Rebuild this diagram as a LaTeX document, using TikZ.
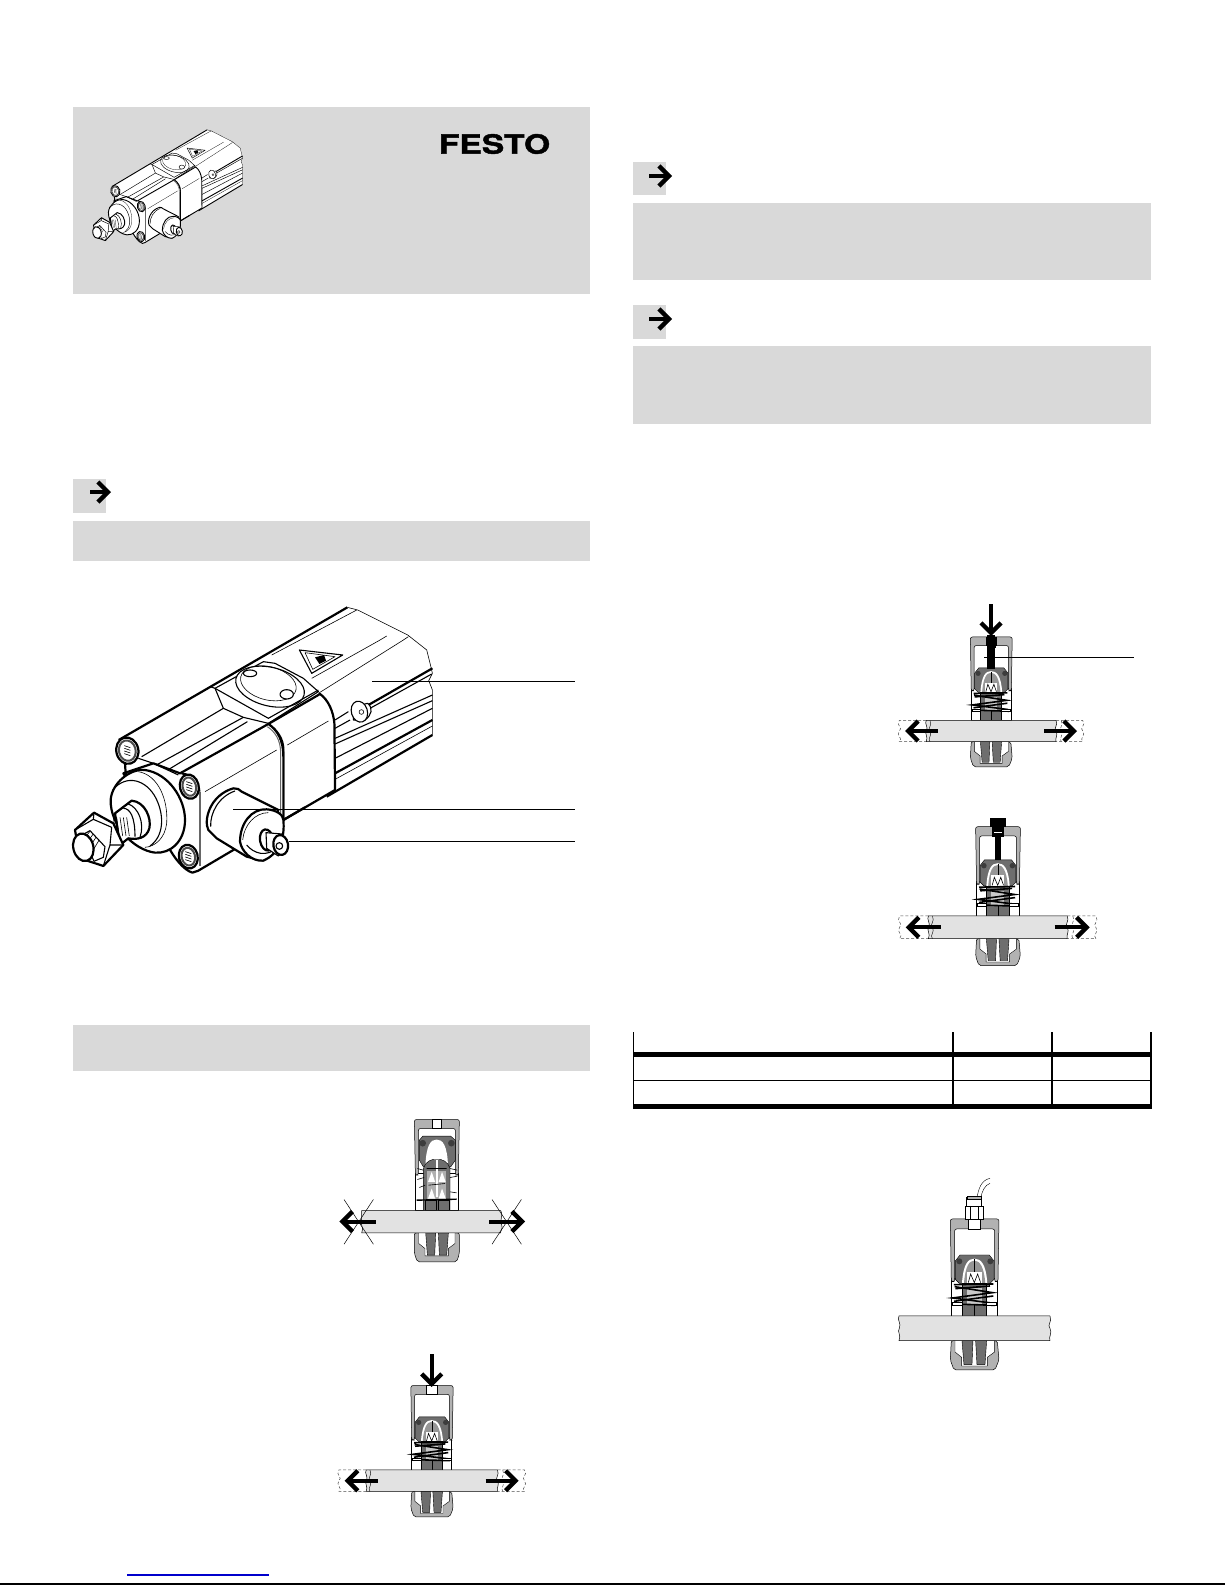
\documentclass[tikz,border=0pt]{standalone}
\usepackage{fontspec}
\newfontfamily\logofont[FakeStretch=1.27,FakeBold=1.6]{TeX Gyre Heros}
\usetikzlibrary{positioning,arrows.meta}

\definecolor{panelgray}{HTML}{D9D9D9}
\definecolor{hullgray}{HTML}{B2B2B2}
\definecolor{darkgray}{HTML}{6E6E6E}
\definecolor{midgray}{HTML}{969696}
\definecolor{ringgray}{HTML}{3C3C3C}
\definecolor{bargray}{HTML}{E2E2E2}
\definecolor{linkblue}{HTML}{0000CC}

\tikzset{
	panel/.style={fill=panelgray,draw=none},
	hullpart/.style={fill=hullgray,draw=black,line width=.5pt},
	darkpart/.style={fill=darkgray,draw=black,line width=.4pt},
	whitepart/.style={fill=white,draw=black,line width=.5pt},
	barpart/.style={fill=bargray,draw=black,line width=.5pt},
	spring/.style={black,line width=1.6pt},
	barend/.style={black!70,line width=.5pt,densely dashed},
	bigarrow/.style={line width=4pt,-{Straight Barb[length=10pt,width=20pt,line width=4.4pt]}},
	leader/.style={black,line width=1pt},
	cylthick/.style={black,line width=\cylw*2.2pt,line join=round},
	cylmid/.style={black,line width=\cylw*1.1pt,line join=round},
	cylthin/.style={black,line width=\cylw*.6pt,line join=round},
}

% the pneumatic cylinder, #1 #2 origin, #3 #4 size of a unit, #5 line factor
\newcommand{\cylinderdrawing}[5]{
	\def\cylw{#5}
	\begin{scope}[shift={(#1,#2)},x=#3pt,y=-#4pt]
		%the rear half
		\begin{scope}[shift={(406.6,150)},xscale=.968]
			\fill[white] (442,-98) -- (473,-90) -- (623,-15) -- (680,30) -- (690,70) -- (697,100) -- (686,122) -- (697,150) -- (697,285) -- (380,470) -- (250,540) -- (-225,370) -- (-244,300) -- cycle;
			\draw[cylthin] (442,-98) -- (473,-90) -- (623,-15) -- (680,30) -- (690,70) -- (697,100) -- (686,122) -- (697,150) -- (697,285);
			\draw[cylthin] (335,115) -- (540,0) -- (560,-12) (355,160) -- (610,0) -- (625,-10) (215,45) -- (470,-90);
			\draw[cylthick] (505,195) -- (697,85);
			\draw[cylmid] (405,240) -- (445,215) (405,265) -- (450,240) (510,205) -- (695,102);
			\draw[cylmid] (405,295) -- (697,165) (405,312) -- (697,182) (405,355) -- (697,205);
			\draw[cylthick] (405,400) -- (697,240);
			\draw[cylthin] (405,418) -- (697,258);
			\draw[cylthick] (380,470) -- (697,285);
			\draw[cylmid,fill=white] (503,190) .. controls (520,205) and (515,225) .. (495,240) -- (460,240) -- (460,200) -- cycle;
			\draw[cylmid,fill=white] (478,215) ellipse [x radius=24,y radius=32,rotate=18];
			\draw[cylthin] (484,216) circle [radius=7];

			%the warning sign
			\draw[cylmid] (298,30) -- (428,45) -- (335,100) -- cycle;
			\draw[cylthin] (315,38) -- (405,50) -- (338,88) -- cycle;
			\fill[black] (345,52) -- (372,45) -- (378,62) -- (358,72) -- cycle;

			%the upper tube
			\draw[cylthick] (-244,300) -- (442,-98);
			\draw[cylmid] (30,140) -- (45,145);
			\draw[cylmid] (70,205) -- (-175,350);
			\draw[cylmid] (130,232) -- (-140,380) (142,245) -- (-105,395);

			%the central block and its round cover
			\draw[cylmid,fill=white] (45,145) -- (190,65) -- (225,70) -- (310,115) -- (355,155) -- (205,250) -- (130,232) -- (70,205) -- cycle;
			\draw[cylmid,fill=white] (210,140) ellipse [x radius=105,y radius=58,rotate=-13];
			\draw[cylthin] (205,130) ellipse [x radius=85,y radius=50,rotate=-13];
			\draw[cylmid,fill=white] (150,100) ellipse [x radius=20,y radius=10];
			\draw[cylmid,fill=white] (260,163) ellipse [x radius=20,y radius=14];
			\draw[cylmid] (45,145) -- (205,235) -- (355,150);

			%the front corner
			\draw[cylthick,fill=white] (205,252) -- (360,162) .. controls (385,180) and (400,215) .. (403,250) -- (405,450) -- (250,540) -- (250,330) .. controls (250,295) and (230,270) .. (205,252) -- cycle;
			\draw[cylthin] (262,315) -- (385,243);
		\end{scope}

		%the front half
		\begin{scope}[shift={(29,420)},xscale=.968]
			%the front block
			\draw[cylthick,fill=white] (330,130) -- (595,-18) .. controls (622,0) and (640,30) .. (640,80) -- (640,270) -- (490,360) -- (385,422) -- (367,428) .. controls (340,420) and (310,380) .. (295,350) -- (160,130) -- (250,100) -- cycle;
			\draw[black!60,line width=\cylw*1pt] (632,70) .. controls (632,30) and (615,5) .. (592,-10) (632,70) -- (632,270);
			\draw[cylthin] (405,185) -- (620,60);
			\draw[black!60,line width=\cylw*1.2pt] (390,185) -- (390,408);
			\draw[cylthick] (335,130) .. controls (365,135) and (388,160) .. (388,185);
			\draw[cylthick] (640,270) -- (705,232);

			%the plate by the upper tube
			\draw[cylmid] (205,85) -- (250,100) -- (325,135);
			\draw[cylthick] (165,100) -- (168,145);

			%the port at the side
			\draw[cylthick,fill=white] (515,185) -- (625,240) -- (580,392) -- (530,380) -- (440,325) -- (415,300) .. controls (400,270) and (420,195) .. (490,175) .. controls (500,174) and (510,178) .. (515,185) -- cycle;
			\draw[cylmid] (495,183) .. controls (445,200) and (420,250) .. (422,290);
			\draw[cylthick,fill=white] (640,270) .. controls (645,320) and (630,370) .. (580,392) .. controls (545,395) and (515,365) .. (510,335) .. controls (510,280) and (545,235) .. (590,238) .. controls (620,240) and (640,255) .. (640,270) -- cycle;
			\draw[cylthin] (518,330) .. controls (522,285) and (555,248) .. (595,248);
			\draw[cylmid] (530,345) .. controls (550,370) and (590,385) .. (625,350);
			\draw[cylthick,fill=white] (590,330) ellipse [x radius=20,y radius=32,rotate=10];
			\draw[cylmid,fill=white] (588,308) -- (635,312) -- (650,350) -- (625,378) -- (590,355) -- cycle;
			\draw[cylthick,fill=white] (632,345) ellipse [x radius=22,y radius=30,rotate=10];
			\draw[cylmid] (628,348) circle [radius=10];

			%the screws
			\foreach \cx/\cy/\rx/\ry in {172/62/33/40, 358/170/28/37, 355/380/28/36}{
				\draw[cylthick,fill=white] (\cx,\cy) ellipse [x radius=\rx,y radius=\ry,rotate=15];
				\draw[black!70,line width=\cylw*2pt] (\cx,\cy) ellipse [x radius=\rx-8,y radius=\ry-9,rotate=15];
				\foreach \hy in {-12,-4,4,12}{
					\draw[cylthin] (\cx-9,\cy+\hy-3) -- (\cx+9,\cy+\hy+3);
				}
			}

			%the flange
			\draw[cylthick,fill=white] (122,210) .. controls (125,160) and (180,115) .. (225,120) .. controls (295,130) and (345,205) .. (345,270) .. controls (345,335) and (300,372) .. (255,368) .. controls (190,360) and (120,285) .. (122,210) -- cycle;
			\draw[cylthin] (205,125) .. controls (265,135) and (295,210) .. (290,280) .. controls (285,325) and (255,350) .. (225,352);
			\draw[cylmid] (128,180) .. controls (170,130) and (230,150) .. (258,205) .. controls (285,260) and (280,320) .. (240,348);

			%the piston rod
			\draw[cylthick,fill=white] (135,250) -- (185,212) .. controls (225,215) and (245,265) .. (238,295) .. controls (230,325) and (200,330) .. (175,325) -- (150,345) -- cycle;
			\draw[cylmid] (175,222) .. controls (205,232) and (225,280) .. (210,322);
			\draw[cylmid] (160,235) .. controls (180,235) and (195,260) .. (195,320);
			\foreach \tx in {130,140,150,160,170}{
				\draw[cylthin] (\tx,262) -- (\tx+8,318);
			}

			%the nut on the rod
			\draw[cylthick,fill=white] (15,300) -- (72,248) -- (130,280) -- (160,345) -- (100,408) -- (30,385) -- cycle;
			\draw[cylmid] (15,300) -- (70,268) (72,248) -- (70,268) -- (125,292) -- (120,345) -- (100,408) (120,345) -- (160,345);
			\draw[cylmid,fill=white] (38,314) -- (60,302) -- (105,350) -- (100,382) -- (72,394) -- cycle;
			\foreach \ty in {0,9,18,27}{
				\draw[cylthin] (60+\ty,304+\ty) -- (42+\ty,326+\ty*1.3);
			}
			\draw[cylthick,fill=white] (40,352) ellipse [x radius=30,y radius=42,rotate=15];
		\end{scope}
	\end{scope}
}

% the opened clamp, drawn on a grid of three units to a pixel
\newcommand{\clampopen}[3]{
	\begin{scope}[shift={(#1,#2)},x=.3333pt,y=-.3333pt,scale=#3,shift={(-320,-364)}]
		\draw[whitepart] (255,220) rectangle (386,331);
		\draw[hullpart,rounded corners=2pt] (256,225) -- (253,58) -- (388,58) -- (385,225) -- (376,225) -- (376,85) -- (265,85) -- (265,225) -- cycle;
		\draw[whitepart] (306,58) rectangle (335,85);
		\draw[darkpart] (268,120) -- (278,108) -- (362,108) -- (376,120) -- (376,180) -- (362,200) -- (280,200) -- (268,180) -- cycle;
		\fill[white] (286,200) .. controls (288,135) and (302,118) .. (320,118) .. controls (338,118) and (352,135) .. (354,200) -- cycle;
		\fill[ringgray] (278,129) circle [radius=10] (364,129) circle [radius=10];
		\draw[darkpart] (280,331) -- (280,205) .. controls (285,185) and (305,175) .. (318,178) -- (322,178) .. controls (335,175) and (355,185) .. (360,205) -- (360,331) -- cycle;
		\fill[midgray!75] (291,212) rectangle (349,298);
		\foreach \ty in {245,295}{
			\fill[white] (294,\ty) -- (305,\ty-30) -- (315,\ty) -- cycle;
			\fill[white] (326,\ty) -- (336,\ty-30) -- (347,\ty) -- cycle;
		}
		\fill[white] (317,180) rectangle (323,290);
		\draw[black,line width=.6pt] (262,205) -- (280,210) (360,205) -- (382,210) (262,238) -- (282,232) (360,232) -- (382,228) (268,262) -- (285,255) (360,275) -- (380,278) (290,205) -- (350,205) (295,255) -- (345,250);
		\draw[black,line width=1.4pt] (260,300) -- (380,297);
		\draw[darkpart] (285,301) rectangle (317,331);
		\draw[darkpart] (325,301) rectangle (356,331);
		%below the bar
		\draw[hullpart,rounded corners=2pt] (253,398) -- (253,460) -- (262,485) -- (380,485) -- (388,460) -- (388,398) -- cycle;
		\fill[white] (266,398) -- (266,430) -- (285,445) -- (285,467) -- (355,467) -- (355,445) -- (375,430) -- (375,398) -- cycle;
		\draw[black,line width=.4pt] (266,398) -- (266,430) -- (285,445) -- (285,467) -- (355,467) -- (355,445) -- (375,430) -- (375,398);
		\draw[darkpart] (287,398) -- (317,398) -- (314,465) -- (292,465) -- cycle;
		\draw[darkpart] (325,398) -- (355,398) -- (350,465) -- (328,465) -- cycle;
		%the bar
		\draw[barpart] (95,331) -- (512,331) .. controls (522,350) and (505,365) .. (515,375) .. controls (520,385) and (510,392) .. (512,398) -- (95,398) .. controls (105,380) and (85,370) .. (95,355) -- cycle;
		%the blocked arrows
		\draw[bigarrow] (137,364) -- (28,364);
		\draw[bigarrow] (477,364) -- (585,364);
		\foreach \mx in {86,530}{
			\draw[black,line width=.5pt] (\mx-44,298) -- (\mx+44,432) (\mx+44,298) -- (\mx-44,432);
		}
	\end{scope}
}

% the loaded clamp, drawn on a grid of three units to a pixel
\newcommand{\clampbody}{
	%the housing
	\draw[whitepart] (214,355) rectangle (352,468);
	\draw[hullpart,rounded corners=2pt] (214,365) -- (211,177) -- (357,177) -- (354,365) -- (344,365) -- (344,207) -- (224,207) -- (224,365) -- cycle;
	\draw[whitepart] (265,177) rectangle (302,207);

	%the piston
	\draw[darkpart] (226,303) -- (240,285) -- (328,285) -- (342,303) -- (342,358) -- (330,370) -- (238,370) -- (226,358) -- cycle;
	\fill[ringgray] (238,304) circle [radius=9] (331,304) circle [radius=9];
	\fill[white] (246,370) .. controls (250,310) and (265,296) .. (283,296) .. controls (302,296) and (318,310) .. (322,370) -- cycle;
	\fill[midgray] (252,370) .. controls (256,318) and (268,302) .. (283,302) .. controls (298,302) and (312,318) .. (316,370) -- cycle;
	\fill[white] (262,336) rectangle (305,372);
	\draw[black,line width=.6pt] (265,368) -- (272,342) -- (283,368) -- (293,342) -- (302,368);
	\draw[black,line width=.4pt] (283,298) -- (283,336);

	%the jaws
	\draw[darkpart] (246,370) rectangle (320,468);
	\fill[midgray!50] (262,385) rectangle (305,432);
	\draw[black,line width=.4pt] (283,432) -- (283,468);

	%the spring
	\draw[spring] (222,374) -- (340,372) (224,380) -- (338,398) -- (218,414) -- (342,430) (218,432) -- (345,436);
	\draw[spring] (226,386) -- (330,378) (222,424) -- (340,408);
	\draw[whitepart] (216,428) rectangle (246,436);
	\draw[whitepart] (320,428) rectangle (350,436);

	%below the bar
	\draw[hullpart,rounded corners=2pt] (214,542) -- (211,600) -- (222,630) -- (345,630) -- (357,600) -- (352,542) -- cycle;
	\fill[white] (225,542) -- (225,576) -- (245,592) -- (245,618) -- (322,618) -- (322,592) -- (344,576) -- (344,542) -- cycle;
	\draw[black,line width=.4pt] (225,542) -- (225,576) -- (245,592) -- (245,618) -- (322,618) -- (322,592) -- (344,576) -- (344,542);
	\draw[darkpart] (246,542) -- (279,542) -- (276,614) -- (252,614) -- cycle;
	\draw[darkpart] (287,542) -- (320,542) -- (315,614) -- (291,614) -- cycle;

	%the bar
	\draw[barpart] (57,468) -- (510,468) .. controls (518,485) and (500,495) .. (510,505) .. controls (518,520) and (505,530) .. (510,542) -- (57,542) .. controls (65,525) and (50,515) .. (58,505) .. controls (65,490) and (50,480) .. (57,468) -- cycle;
}

% the broken ends of the bar, and the arrows that move it
\newcommand{\clampends}{
	\draw[barend] (57,468) -- (-37,468) .. controls (-50,485) and (-22,495) .. (-37,505) .. controls (-50,520) and (-22,530) .. (-37,542) -- (57,542);
	\draw[barend] (510,468) -- (603,468) .. controls (616,485) and (590,495) .. (603,505) .. controls (616,520) and (590,530) .. (603,542) -- (510,542);
	\draw[black,line width=.4pt] (70,468) .. controls (80,485) and (60,495) .. (70,505) .. controls (80,520) and (60,530) .. (70,542);
	\draw[barend] (528,468) .. controls (538,485) and (518,495) .. (528,505) .. controls (538,520) and (518,530) .. (528,542);
	\draw[bigarrow] (97,505) -- (-17,505);
	\draw[bigarrow] (469,505) -- (583,505);
}

\begin{document}
\begin{tikzpicture}[x=1pt,y=-1pt,>=latex]
	\useasboundingbox (0,0) rectangle (1225,1585);

	%the gray panels
	\fill[panel] (73,107) rectangle (590,294);
	\fill[panel] (73,479) rectangle (106,513);
	\fill[panel] (73,520.5) rectangle (590,561);
	\fill[panel] (73,1025) rectangle (590,1071);
	\fill[panel] (633,162) rectangle (666,195);
	\fill[panel] (633,203) rectangle (1151,280);
	\fill[panel] (633,305) rectangle (666,339);
	\fill[panel] (633,346) rectangle (1151,424);

	%the pointers in the tags
	\draw[bigarrow] (90,492) -- (111,492);
	\draw[bigarrow] (649,176) -- (672,176);
	\draw[bigarrow] (649,319) -- (672,319);

	%the title panel
	\node[font=\logofont\bfseries\fontsize{26.5}{27}\selectfont,inner sep=0pt] (festo) at (494.5,144) {FESTO};
	\cylinderdrawing{87.3}{122.4}{.1436}{.1427}{.42}

	%the large cylinder with its leaders
	\cylinderdrawing{60}{590}{.3444}{.3333}{1}
	\coordinate (cap) at (372,681.5);
	\coordinate (capend) at (575,681.5);
	\coordinate (port) at (233,809.5);
	\coordinate (portend) at (575,809.5);
	\coordinate (screw) at (289,841);
	\coordinate (screwend) at (575,841);
	\draw[leader] (cap) -- (capend);
	\draw[leader] (port) -- (portend);
	\draw[leader] (screw) -- (screwend);

	%the clamp, released
	\clampopen{436.7}{1221.5}{1}

	%the clamp under air pressure
	\begin{scope}[shift={(431.7,1480.7)},x=.3333pt,y=-.3333pt,scale=.87,shift={(-283,-505)}]
		\clampbody
		\clampends
	\end{scope}
	\draw[bigarrow] (431.7,1354) -- (431.7,1387);

	%the clamp opened with the rod
	\begin{scope}[shift={(991,731)},x=.3333pt,y=-.3333pt,scale=.86,shift={(-283,-505)}]
		\clampbody
		\clampends
	\end{scope}
	\fill[black] (986.5,637) rectangle (996,648);
	\fill[black] (987.3,635) rectangle (995,669);
	\draw[bigarrow] (991,604) -- (991,636);
	\coordinate (rod) at (984,657);
	\coordinate (rodend) at (1134,657);
	\draw[leader] (rod) -- (rodend);

	%the clamp held by the screw
	\begin{scope}[shift={(997.7,927.3)},x=.3333pt,y=-.3333pt,scale=.92,shift={(-283,-505)}]
		\clampbody
		\clampends
	\end{scope}
	\fill[black] (990,818) rectangle (1006,827);
	\fill[black] (992,827) rectangle (1003.4,836);
	\fill[white] (993.5,832) rectangle (1002,833);
	\fill[black] (995,836) rectangle (1000.7,860);

	%the clamp with the air fitting
	\begin{scope}[shift={(974.3,1328.3)},x=.3333pt,y=-.3333pt,shift={(-283,-505)}]
		\clampbody
		\draw[black,line width=.4pt] (291,115) .. controls (295,85) and (305,60) .. (330,55) (303,113) .. controls (305,95) and (315,75) .. (330,70);
		\draw[whitepart] (258,113) rectangle (305,138);
		\draw[hullpart] (262,110) rectangle (303,118);
		\draw[whitepart] (255,138) rectangle (311,177);
		\draw[black,line width=.4pt] (270,138) -- (270,177) (296,138) -- (296,177);
	\end{scope}

	%the table
	\draw[black,line width=1.3pt] (633.5,1032) -- (633.5,1106) (953,1032) -- (953,1106) (1052,1032) -- (1052,1106) (1151,1032) -- (1151,1106);
	\draw[black,line width=5pt] (633,1054.5) -- (1152,1054.5);
	\draw[black,line width=1pt] (633,1080.5) -- (1152,1080.5);
	\draw[black,line width=5pt] (633,1106.5) -- (1152,1106.5);

	%the foot of the page
	\draw[linkblue,line width=1.3pt] (127,1575) -- (269,1575);
	\draw[black,line width=1.5pt] (0,1584) -- (1225,1584);
\end{tikzpicture}
\end{document}
